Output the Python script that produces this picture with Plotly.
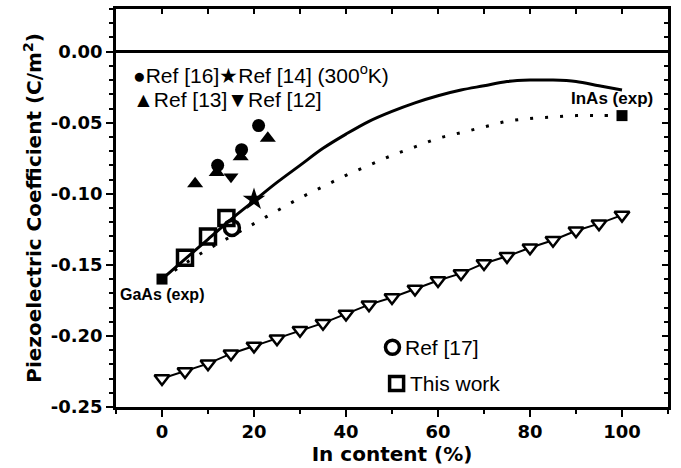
import plotly.graph_objects as go

# ---------------- data ----------------
# solid theory curve
solid_x = [0, 5, 10, 15, 20, 25, 30, 35, 40, 45, 50, 55, 60, 65, 70, 75, 80, 85, 90, 95, 100]
solid_y = [-0.160, -0.146, -0.132, -0.118, -0.105, -0.092, -0.080, -0.068, -0.058, -0.049,
           -0.042, -0.036, -0.031, -0.027, -0.024, -0.021, -0.020, -0.020, -0.021, -0.024, -0.027]
# dotted curve
dot_x = [0, 5, 10, 15, 20, 25, 30, 35, 40, 45, 50, 55, 60, 65, 70, 75, 80, 85, 90, 95, 100]
dot_y = [-0.160, -0.149, -0.139, -0.130, -0.121, -0.112, -0.103, -0.095, -0.087, -0.080,
         -0.073, -0.067, -0.061, -0.057, -0.053, -0.049, -0.047, -0.046, -0.045, -0.045, -0.045]
# open down-triangle series
tri_x = [0, 5, 10, 15, 20, 25, 30, 35, 40, 45, 50, 55, 60, 65, 70, 75, 80, 85, 90, 95, 100]
tri_y = [-0.230, -0.225, -0.2195, -0.2125, -0.207, -0.202, -0.196, -0.191, -0.1845, -0.178,
         -0.173, -0.167, -0.161, -0.156, -0.149, -0.144, -0.138, -0.1327, -0.126, -0.121, -0.115]
# experimental points
exp_x = [0, 100]
exp_y = [-0.160, -0.045]
# Ref [16]
r16_x = [12.1, 17.3, 21.0]
r16_y = [-0.080, -0.069, -0.052]
# Ref [13]
r13_x = [7.2, 11.9, 17.1, 23.0]
r13_y = [-0.093, -0.085, -0.074, -0.061]
# Ref [12]
r12_x = [15.0]
r12_y = [-0.088]
# Ref [14]
r14_x = [20.0]
r14_y = [-0.104]
# Ref [17]
r17_x = [15.2]
r17_y = [-0.124]
# This work
tw_x = [5, 10, 14]
tw_y = [-0.145, -0.130, -0.117]

x_range = [-10, 110]
y_range = [-0.25, 0.03]
x_ticks = [0, 20, 40, 60, 80, 100]
y_ticks = [0.00, -0.05, -0.10, -0.15, -0.20, -0.25]
y_ticklabels = ["0.00", "-0.05", "-0.10", "-0.15", "-0.20", "-0.25"]

BLK = "black"
fig = go.Figure()

fig.add_trace(go.Scatter(x=tri_x, y=tri_y, mode="lines+markers",
                         line=dict(color=BLK, width=2),
                         marker=dict(symbol="triangle-down", size=13, color="white",
                                     line=dict(color=BLK, width=2.5))))
fig.add_trace(go.Scatter(x=dot_x, y=dot_y, mode="lines", line=dict(color=BLK, width=3, dash="3px,12px"),
                         line_shape="spline"))
fig.add_trace(go.Scatter(x=solid_x, y=solid_y, mode="lines", line=dict(color=BLK, width=3),
                         line_shape="spline"))
fig.add_trace(go.Scatter(x=r16_x, y=r16_y, mode="markers",
                         marker=dict(symbol="circle", size=13, color=BLK)))
fig.add_trace(go.Scatter(x=r13_x, y=r13_y, mode="markers",
                         marker=dict(symbol="triangle-up", size=14, color=BLK)))
fig.add_trace(go.Scatter(x=r12_x, y=r12_y, mode="markers",
                         marker=dict(symbol="triangle-down", size=13, color=BLK)))
fig.add_trace(go.Scatter(x=r14_x, y=r14_y, mode="markers",
                         marker=dict(symbol="star", size=17, color=BLK)))
fig.add_trace(go.Scatter(x=r17_x, y=r17_y, mode="markers",
                         marker=dict(symbol="circle-open", size=15, color=BLK, line=dict(width=3.5))))
fig.add_trace(go.Scatter(x=tw_x, y=tw_y, mode="markers",
                         marker=dict(symbol="square-open", size=15, color=BLK, line=dict(width=3.5))))
fig.add_trace(go.Scatter(x=exp_x, y=exp_y, mode="markers",
                         marker=dict(symbol="square", size=11, color=BLK)))
# helper trace for mirror axes
fig.add_trace(go.Scatter(x=[0], y=[0], xaxis="x2", yaxis="y2", mode="markers",
                         marker=dict(opacity=0), showlegend=False, hoverinfo="skip"))

tickfont = dict(family="DejaVu Sans", size=18, color=BLK)
titlefont = dict(family="DejaVu Sans", size=20, color=BLK)

fig.update_layout(
    width=681, height=468,
    margin=dict(l=116, r=13, t=9, b=61),
    paper_bgcolor="white", plot_bgcolor="white",
    showlegend=False,
    xaxis=dict(range=x_range, tickvals=x_ticks, ticktext=[f"<b>{v}</b>" for v in x_ticks],
               ticks="outside", ticklen=7, tickwidth=2, tickcolor=BLK, automargin=False,
               minor=dict(dtick=10, tick0=0, ticks="outside", ticklen=4, tickwidth=2, tickcolor=BLK),
               showline=True, linecolor=BLK, linewidth=2.5, showgrid=False, zeroline=False,
               tickfont=tickfont,
               title=dict(text="<b>In content (%)</b>", font=titlefont, standoff=0)),
    yaxis=dict(range=y_range, tickvals=y_ticks, ticktext=[f"<b>{t}</b>" for t in y_ticklabels],
               ticks="outside", ticklen=7, tickwidth=2, tickcolor=BLK, automargin=False,
               minor=dict(dtick=0.01, tick0=0, ticks="outside", ticklen=4, tickwidth=2, tickcolor=BLK),
               showline=True, linecolor=BLK, linewidth=2.5, showgrid=False,
               zeroline=True, zerolinecolor=BLK, zerolinewidth=2.5,
               tickfont=tickfont,
               title=dict(text="<b>Piezoelectric Coefficient (C/m<sup>2</sup>)</b>", font=titlefont, standoff=4)),
    xaxis2=dict(range=x_range, overlaying="x", side="top", dtick=10, tick0=0, automargin=False,
                ticks="inside", ticklen=5, tickwidth=2, tickcolor=BLK, showticklabels=False,
                showline=True, linecolor=BLK, linewidth=2.5, showgrid=False, zeroline=False),
    yaxis2=dict(range=y_range, overlaying="y", side="right", dtick=0.05, tick0=0, automargin=False,
                ticks="inside", ticklen=6, tickwidth=2, tickcolor=BLK, showticklabels=False,
                minor=dict(dtick=0.01, tick0=0, ticks="inside", ticklen=4, tickwidth=2, tickcolor=BLK),
                showline=True, linecolor=BLK, linewidth=2.5, showgrid=False, zeroline=False),
)

legfont = dict(family="Liberation Sans, Arial", size=21, color=BLK)
fig.add_annotation(x=-6.8, y=-0.016, xref="x", yref="y", xanchor="left", yanchor="middle",
                   showarrow=False, font=legfont,
                   text="●Ref [16]★Ref [14] (300<sup>o</sup>K)")
fig.add_annotation(x=-6.8, y=-0.034, xref="x", yref="y", xanchor="left", yanchor="middle",
                   showarrow=False, font=legfont,
                   text="▲Ref [13]▼Ref [12]")
fig.add_annotation(x=52.4, y=-0.208, xref="x", yref="y", xanchor="left", yanchor="middle",
                   showarrow=False, font=legfont, text="Ref [17]")
fig.add_annotation(x=53.4, y=-0.2335, xref="x", yref="y", xanchor="left", yanchor="middle",
                   showarrow=False, font=legfont, text="This work")
# legend symbols
fig.add_shape(type="circle", xref="x", yref="y", xsizemode="pixel", ysizemode="pixel",
              xanchor=50.1, yanchor=-0.208, x0=-7, x1=7, y0=-7, y1=7,
              line=dict(color=BLK, width=3.5))
fig.add_shape(type="rect", xref="x", yref="y", xsizemode="pixel", ysizemode="pixel",
              xanchor=51.0, yanchor=-0.2335, x0=-7, x1=7, y0=-7, y1=7,
              line=dict(color=BLK, width=3.5))

labfont = dict(family="Liberation Sans, Arial", size=16, color=BLK)
fig.add_annotation(x=0, y=-0.160, xref="x", yref="y", xanchor="center", yanchor="middle",
                   yshift=-15, showarrow=False, font=labfont, text="<b>GaAs (exp)</b>")
fig.add_annotation(x=97.8, y=-0.045, xref="x", yref="y", xanchor="center", yanchor="middle",
                   yshift=17, showarrow=False, font=dict(family="Liberation Sans, Arial", size=17, color=BLK),
                   text="<b>InAs (exp)</b>")

fig.write_html("out.html", config={"displayModeBar": False},
               post_script="document.body.style.margin='0';document.body.style.padding='0';")
